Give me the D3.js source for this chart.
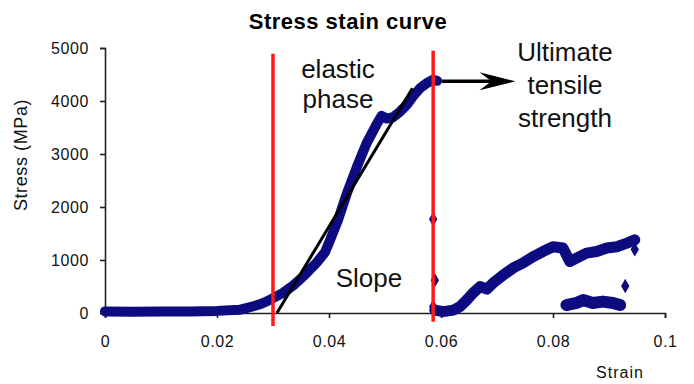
<!DOCTYPE html>
<html>
<head>
<meta charset="utf-8">
<script src="https://cdn.jsdelivr.net/npm/d3@7"></script>
<style>
  body { margin: 0; background: #fff; }
  text { font-family: Arial, "Liberation Sans", sans-serif; }
</style>
</head>
<body>
<svg id="chart"></svg>
<script>
// values: [strain, stress MPa]
const loadingCurve = [
    [0, 30], [0.005, 25], [0.01, 30], [0.015, 30], [0.02, 40], [0.024, 60],
    [0.0259, 110], [0.0275, 160], [0.0288, 215], [0.03, 280], [0.0318, 380],
    [0.0336, 520], [0.0357, 720], [0.0378, 950], [0.0393, 1150], [0.0402, 1380],
    [0.0416, 1750], [0.0432, 2260], [0.045, 2760], [0.0467, 3200], [0.0485, 3560],
    [0.0494, 3720], [0.0503, 3670], [0.0514, 3690], [0.0527, 3800], [0.0539, 3930],
    [0.055, 4090], [0.0563, 4245], [0.0575, 4340], [0.0586, 4400], [0.0593, 4380]
];
const afterBreak = [
    [0.0589, 55], [0.0604, 25], [0.0622, 55], [0.0634, 120], [0.0646, 245],
    [0.0657, 375], [0.067, 500], [0.0682, 450], [0.0693, 565], [0.0711, 715],
    [0.0729, 850], [0.0746, 940], [0.0764, 1060], [0.0782, 1160], [0.08, 1250],
    [0.0818, 1225], [0.083, 970], [0.0842, 1035], [0.086, 1130], [0.0878, 1160],
    [0.0896, 1225], [0.0914, 1250], [0.0932, 1320], [0.0946, 1380]
];
const lowerCluster = [
    [0.0824, 150], [0.0842, 190], [0.0854, 245], [0.0871, 190], [0.0889, 215],
    [0.0907, 190], [0.092, 150]
];
const strayPoints = [
    [0.0586, 1770], [0.0589, 620], [0.0586, 120], [0.0929, 510], [0.0946, 1200]
];
const slopeLine = [[0.0307, 0], [0.0549, 4240]];
const redLines = [
    { strain: 0.03, from: -245, to: 4890 },
    { strain: 0.0586, from: -165, to: 4950 }
];
const xTicks = [0, 0.02, 0.04, 0.06, 0.08, 0.1];
const xTickLabels = ["0", "0.02", "0.04", "0.06", "0.08", "0.1"];
const yTicks = [0, 1000, 2000, 3000, 4000, 5000];
const yTickLabels = ["0", "1000", "2000", "3000", "4000", "5000"];

const W = 694, H = 384;
const margin = { top: 48, right: 29, bottom: 71, left: 105 };
const width = W - margin.left - margin.right;
const height = H - margin.top - margin.bottom;
const navy = "#0c0c80";

const svg = d3.select("#chart").attr("width", W).attr("height", H);
const g = svg.append("g")
    .attr("transform", "translate(" + margin.left + "," + margin.top + ")");

const x = d3.scaleLinear().domain([0, 0.1]).range([0, width]);
const y = d3.scaleLinear().domain([0, 5000]).range([height, 0]);

const line = d3.line().x(d => x(d[0])).y(d => y(d[1]));

// axes
const xAxis = g.append("g")
    .attr("transform", "translate(0," + height + ")")
    .call(d3.axisBottom(x).tickValues(xTicks)
        .tickFormat((d, i) => xTickLabels[i]).tickSize(5).tickPadding(18));
const yAxis = g.append("g")
    .call(d3.axisLeft(y).tickValues(yTicks)
        .tickFormat((d, i) => yTickLabels[i]).tickSize(5).tickPadding(11));
[xAxis, yAxis].forEach(a => {
    a.selectAll("path, line").attr("stroke", "#222").attr("stroke-width", 1.6);
    a.selectAll("text").attr("fill", "#111").style("font-size", "16px")
        .style("letter-spacing", "0.6px");
});

// data bands
[[loadingCurve, 10], [afterBreak, 11], [lowerCluster, 12]].forEach(([data, w]) => {
    g.append("path")
        .datum(data)
        .attr("fill", "none")
        .attr("stroke", navy)
        .attr("stroke-width", w)
        .attr("stroke-linejoin", "round")
        .attr("stroke-linecap", "round")
        .attr("d", line);
});
g.selectAll(".stray")
    .data(strayPoints)
    .join("path")
    .attr("transform", d => "translate(" + x(d[0]) + "," + y(d[1]) + ")")
    .attr("d", d3.symbol(d3.symbolDiamond, 60))
    .attr("fill", navy);

// slope line
g.append("path")
    .datum(slopeLine)
    .attr("fill", "none")
    .attr("stroke", "#000")
    .attr("stroke-width", 3)
    .attr("d", line);

// red limit lines
g.selectAll(".limit")
    .data(redLines)
    .join("line")
    .attr("x1", d => x(d.strain)).attr("x2", d => x(d.strain))
    .attr("y1", d => y(d.from)).attr("y2", d => y(d.to))
    .attr("stroke", "#ff1a1a")
    .attr("stroke-width", 3.5);

// arrow to the ultimate tensile strength
const ay = y(4400) + 1.5;
const ax0 = x(0.0602), ax1 = x(0.0733);
g.append("line")
    .attr("x1", ax0).attr("x2", ax1 - 20)
    .attr("y1", ay).attr("y2", ay)
    .attr("stroke", "#000").attr("stroke-width", 3.5);
g.append("path")
    .attr("d", "M" + ax1 + "," + ay + "L" + (ax1 - 36) + "," + (ay - 9) +
        "L" + (ax1 - 24) + "," + ay + "L" + (ax1 - 36) + "," + (ay + 9) + "Z")
    .attr("fill", "#000");

// labels
svg.append("text")
    .attr("x", 348).attr("y", 29)
    .attr("text-anchor", "middle")
    .style("font-size", "22px").style("font-weight", "bold")
    .style("letter-spacing", "0.5px")
    .text("Stress stain curve");

svg.append("text")
    .attr("transform", "translate(27,155) rotate(-90)")
    .attr("text-anchor", "middle")
    .style("font-size", "18px").style("letter-spacing", "0.6px")
    .attr("fill", "#111")
    .text("Stress (MPa)");

svg.append("text")
    .attr("x", 620).attr("y", 378)
    .attr("text-anchor", "middle")
    .style("font-size", "16px").style("letter-spacing", "1px")
    .attr("fill", "#111")
    .text("Strain");

const note = (lines, cx, y0, dy) => {
    const t = svg.append("text")
        .attr("text-anchor", "middle")
        .style("font-size", "26px")
        .attr("fill", "#111");
    lines.forEach((s, i) => {
        t.append("tspan").attr("x", cx).attr("y", y0 + i * dy).text(s);
    });
};
note(["elastic", "phase"], 338, 78, 30);
note(["Ultimate", "tensile", "strength"], 565, 61, 33);
note(["Slope"], 369, 287, 0);
</script>
</body>
</html>
